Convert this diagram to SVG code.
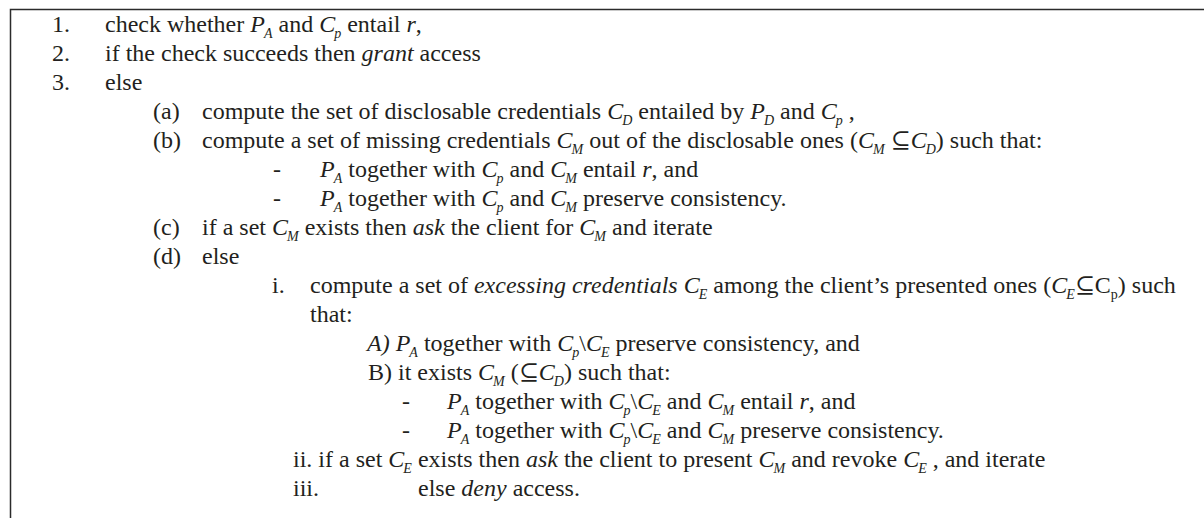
<svg xmlns="http://www.w3.org/2000/svg" width="1204" height="518" viewBox="0 0 1204 518">
  <style>
    text{font-family:"Liberation Serif","Times New Roman","DejaVu Serif",serif;font-size:24px;fill:#231f20}
    .i{font-style:italic}
    .s{font-size:14px;font-style:italic}
    .sr{font-size:14px}
    .frame{fill:none;stroke:#2b2b2b;stroke-width:1.5}
  </style>
  <rect width="1204" height="518" fill="#ffffff"/>
  <!-- open box: only the top and left edges are visible -->
  <path class="frame" d="M10.5 518 V9.5 H1204"/>

  <g id="step1">
    <text x="52" y="32">1.</text>
    <text x="105" y="32">check whether <tspan class="i">P</tspan><tspan class="s" dx="-1" dy="6">A</tspan><tspan dy="-6"> and </tspan><tspan class="i">C</tspan><tspan class="s" dx="-1" dy="6">p</tspan><tspan dy="-6"> entail </tspan><tspan class="i">r</tspan>,</text>
  </g>
  <g id="step2">
    <text x="52" y="61">2.</text>
    <text x="105" y="61">if the check succeeds then <tspan class="i">grant</tspan> access</text>
  </g>
  <g id="step3">
    <text x="52" y="90">3.</text>
    <text x="105" y="90">else</text>
  </g>
  <g id="step3a">
    <text x="153" y="119">(a)</text>
    <text x="202" y="119">compute the set of disclosable credentials <tspan class="i">C</tspan><tspan class="s" dx="-1" dy="6">D</tspan><tspan dy="-6"> entailed by </tspan><tspan class="i">P</tspan><tspan class="s" dx="-1" dy="6">D</tspan><tspan dy="-6"> and </tspan><tspan class="i">C</tspan><tspan class="s" dx="-1" dy="6">p</tspan><tspan dy="-6"> ,</tspan></text>
  </g>
  <g id="step3b">
    <text x="153" y="148">(b)</text>
    <text x="202" y="148">compute a set of missing credentials <tspan class="i">C</tspan><tspan class="s" dx="-1" dy="6">M</tspan><tspan dy="-6"> out of the disclosable ones (</tspan><tspan class="i">C</tspan><tspan class="s" dx="-1" dy="6">M</tspan><tspan dy="-6"> ⊆</tspan><tspan class="i">C</tspan><tspan class="s" dx="-1" dy="6">D</tspan><tspan dy="-6">) such that:</tspan></text>
  </g>
  <g id="step3b-1">
    <text x="273" y="177">-</text>
    <text x="320" y="177"><tspan class="i">P</tspan><tspan class="s" dx="-1" dy="6">A</tspan><tspan dy="-6"> together with </tspan><tspan class="i">C</tspan><tspan class="s" dx="-1" dy="6">p</tspan><tspan dy="-6"> and </tspan><tspan class="i">C</tspan><tspan class="s" dx="-1" dy="6">M</tspan><tspan dy="-6"> entail </tspan><tspan class="i">r</tspan>, and</text>
  </g>
  <g id="step3b-2">
    <text x="273" y="206">-</text>
    <text x="320" y="206"><tspan class="i">P</tspan><tspan class="s" dx="-1" dy="6">A</tspan><tspan dy="-6"> together with </tspan><tspan class="i">C</tspan><tspan class="s" dx="-1" dy="6">p</tspan><tspan dy="-6"> and </tspan><tspan class="i">C</tspan><tspan class="s" dx="-1" dy="6">M</tspan><tspan dy="-6"> preserve consistency.</tspan></text>
  </g>
  <g id="step3c">
    <text x="153" y="235">(c)</text>
    <text x="202" y="235">if a set <tspan class="i">C</tspan><tspan class="s" dx="-1" dy="6">M</tspan><tspan dy="-6"> exists then </tspan><tspan class="i">ask</tspan> the client for <tspan class="i">C</tspan><tspan class="s" dx="-1" dy="6">M</tspan><tspan dy="-6"> and iterate</tspan></text>
  </g>
  <g id="step3d">
    <text x="153" y="264">(d)</text>
    <text x="202" y="264">else</text>
  </g>
  <g id="step3d-i">
    <text x="272" y="293">i.</text>
    <text x="310" y="293">compute a set of <tspan class="i">excessing credentials C</tspan><tspan class="s" dx="-1" dy="6">E</tspan><tspan dy="-6"> among the client’s presented ones (</tspan><tspan class="i">C</tspan><tspan class="s" dx="-1" dy="6">E</tspan><tspan dy="-6">⊆C</tspan><tspan class="sr" dy="6">p</tspan><tspan dy="-6">) such</tspan></text>
    <text x="310" y="322">that:</text>
  </g>
  <g id="step3d-iA">
    <text x="367" y="351"><tspan class="i">A)</tspan> <tspan class="i">P</tspan><tspan class="s" dx="-1" dy="6">A</tspan><tspan dy="-6"> together with </tspan><tspan class="i">C</tspan><tspan class="s" dx="-1" dy="6">p</tspan><tspan dy="-6">\</tspan><tspan class="i">C</tspan><tspan class="s" dx="-1" dy="6">E</tspan><tspan dy="-6"> preserve consistency, and</tspan></text>
  </g>
  <g id="step3d-iB">
    <text x="368" y="380">B) it exists <tspan class="i">C</tspan><tspan class="s" dx="-1" dy="6">M</tspan><tspan dy="-6"> (⊆</tspan><tspan class="i">C</tspan><tspan class="s" dx="-1" dy="6">D</tspan><tspan dy="-6">) such that:</tspan></text>
  </g>
  <g id="step3d-iB-1">
    <text x="402" y="409">-</text>
    <text x="447" y="409"><tspan class="i">P</tspan><tspan class="s" dx="-1" dy="6">A</tspan><tspan dy="-6"> together with </tspan><tspan class="i">C</tspan><tspan class="s" dx="-1" dy="6">p</tspan><tspan dy="-6">\</tspan><tspan class="i">C</tspan><tspan class="s" dx="-1" dy="6">E</tspan><tspan dy="-6"> and </tspan><tspan class="i">C</tspan><tspan class="s" dx="-1" dy="6">M</tspan><tspan dy="-6"> entail </tspan><tspan class="i">r</tspan>, and</text>
  </g>
  <g id="step3d-iB-2">
    <text x="402" y="438">-</text>
    <text x="447" y="438"><tspan class="i">P</tspan><tspan class="s" dx="-1" dy="6">A</tspan><tspan dy="-6"> together with </tspan><tspan class="i">C</tspan><tspan class="s" dx="-1" dy="6">p</tspan><tspan dy="-6">\</tspan><tspan class="i">C</tspan><tspan class="s" dx="-1" dy="6">E</tspan><tspan dy="-6"> and </tspan><tspan class="i">C</tspan><tspan class="s" dx="-1" dy="6">M</tspan><tspan dy="-6"> preserve consistency.</tspan></text>
  </g>
  <g id="step3d-ii">
    <text x="293" y="467">ii. if a set <tspan class="i">C</tspan><tspan class="s" dx="-1" dy="6">E</tspan><tspan dy="-6"> exists then </tspan><tspan class="i">ask</tspan> the client to present <tspan class="i">C</tspan><tspan class="s" dx="-1" dy="6">M</tspan><tspan dy="-6"> and revoke </tspan><tspan class="i">C</tspan><tspan class="s" dx="-1" dy="6">E</tspan><tspan dy="-6"> , and iterate</tspan></text>
  </g>
  <g id="step3d-iii">
    <text x="293" y="496">iii.</text>
    <text x="418" y="496">else <tspan class="i">deny</tspan> access.</text>
  </g>
</svg>
